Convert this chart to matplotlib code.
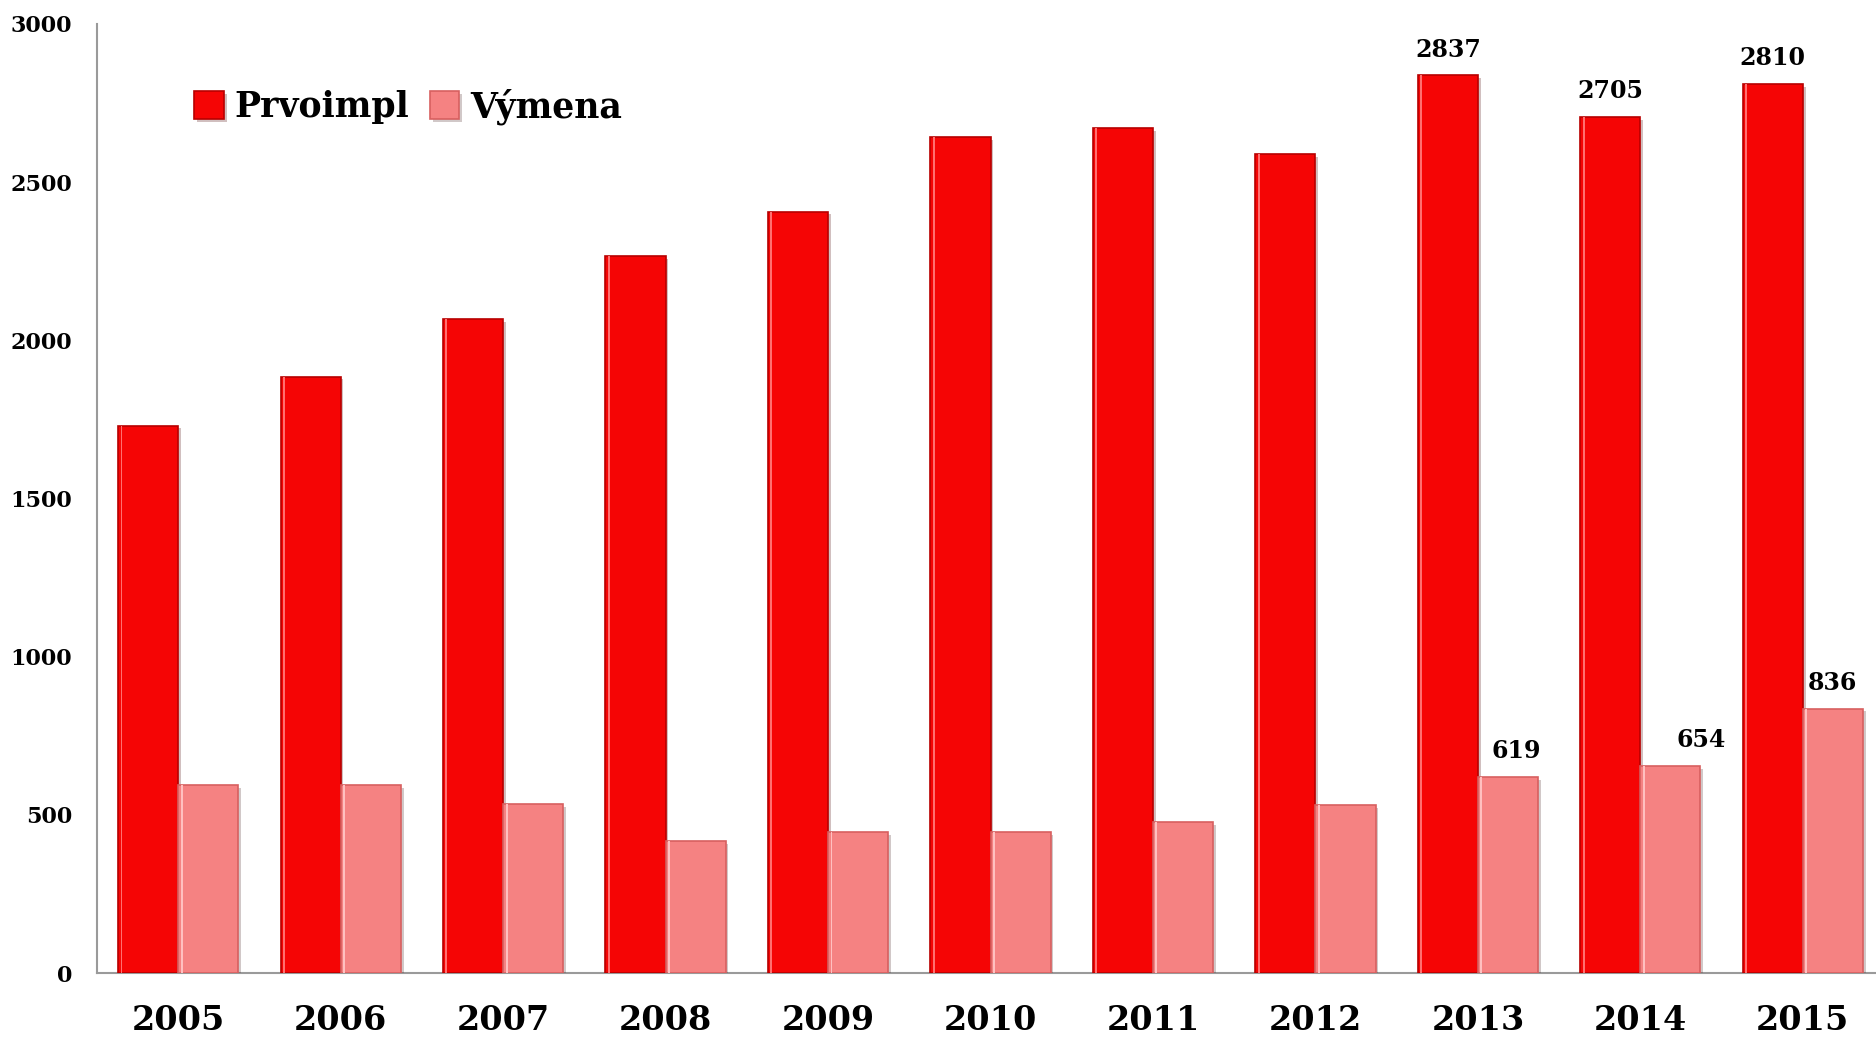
import matplotlib.pyplot as plt
import matplotlib.patheffects as pe
import numpy as np

years = ["2005", "2006", "2007", "2008", "2009", "2010",
         "2011", "2012", "2013", "2014", "2015"]
prvoimpl = [1730, 1885, 2067, 2267, 2407, 2641, 2671, 2588, 2837, 2705, 2810]
vymena = [594, 594, 533, 416, 446, 446, 477, 530, 619, 654, 836]

red = "#F50505"
pink = "#F58282"
font = "DejaVu Serif"

fig = plt.figure(figsize=(18.76, 10.39), dpi=100)
ax = fig.add_axes([0.0517, 0.0635, 0.9526, 0.9135])

x = np.arange(len(years))
w = 0.37
shadow = [pe.SimplePatchShadow(offset=(2, -2), alpha=0.25), pe.Normal()]
b1 = ax.bar(x - w, prvoimpl, w, align="edge", color=red, edgecolor="#B80000",
            linewidth=1.2, label="Prvoimpl", path_effects=shadow, zorder=3)
b2 = ax.bar(x, vymena, w, align="edge", color=pink, edgecolor="#D86060",
            linewidth=1.2, label="Výmena", path_effects=shadow, zorder=3)

# light highlight stripe near left edge of bars (bevel look)
ax.bar(x - w + 0.015, prvoimpl, 0.012, align="edge", color="#FF7070",
       linewidth=0, zorder=4)
ax.bar(x + 0.015, vymena, 0.012, align="edge", color="#FFC0C0",
       linewidth=0, zorder=4)

# value labels for the last three years
label_font = dict(fontfamily=font, fontweight="bold", fontsize=17)
for i in range(8, 11):
    ax.annotate(str(prvoimpl[i]), (x[i] - w / 2, prvoimpl[i]),
                xytext=(0, 10), textcoords="offset points",
                ha="center", va="bottom", **label_font)
offsets = {8: 6, 9: 22, 10: 0}
for i in range(8, 11):
    ax.annotate(str(vymena[i]), (x[i] + w / 2, vymena[i]),
                xytext=(offsets[i], 10), textcoords="offset points",
                ha="center", va="bottom", **label_font)

ax.set_xlim(-0.5, len(years) - 0.5)
ax.set_ylim(0, 3000)
ax.set_yticks([0, 500, 1000, 1500, 2000, 2500, 3000])
ax.set_xticks(x)
ax.set_xticklabels(years)

for s in ["top", "right"]:
    ax.spines[s].set_visible(False)
for s in ["left", "bottom"]:
    ax.spines[s].set_color("#9A9A9A")
    ax.spines[s].set_linewidth(1.5)

ax.tick_params(axis="both", length=0)
ax.tick_params(axis="y", pad=18)
ax.tick_params(axis="x", pad=22)
for t in ax.get_yticklabels():
    t.set_fontfamily(font)
    t.set_fontweight("bold")
    t.set_fontsize(16)
for t in ax.get_xticklabels():
    t.set_fontfamily(font)
    t.set_fontweight("bold")
    t.set_fontsize(24)

leg = ax.legend(loc="upper left", bbox_to_anchor=(0.037, 0.965), ncol=2,
                frameon=False, handlelength=0.85, handleheight=0.85,
                handletextpad=0.3, columnspacing=0.6,
                prop=dict(family=font, weight="bold", size=25))

fig.savefig("out.png", dpi=100)
